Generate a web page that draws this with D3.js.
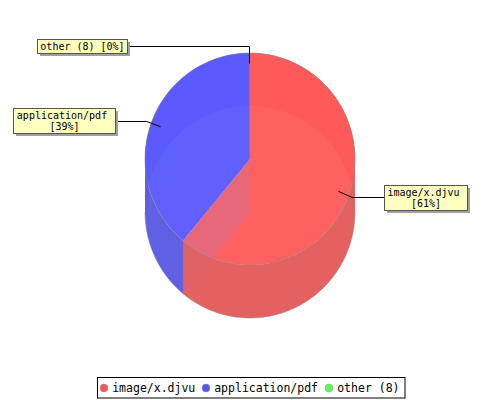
<!DOCTYPE html>
<html>
<head>
<script src='https://d3js.org/d3.v7.min.js'></script>
<style>
    html, body { margin: 0; padding: 0; background: #fff; }
    text { font-family: 'DejaVu Sans Mono', monospace; }
</style>
</head>
<body>
<svg width=500 height=400></svg>
<script>
    var categories = ['image/x.djvu', 'application/pdf', 'other (8)'];
    var shares = [61, 39, 0];
    var labelLines = [['image/x.djvu', '[61%]'], ['application/pdf', '[39%]'], ['other (8) [0%]']];

    var topColors = ['#ff5959', '#5959ff', '#59ff59'];
    var wallColors = ['#e56060', '#6060e5', '#60e560'];
    var legendColors = ['#ff5555', '#5555ff', '#55ff55'];

    var cx = 250, cy = 159, rx = 105, ry = 106, depth = 53;

    var svg = d3.select('svg');
    var slices = d3.pie().sort(null).value(function (d) { return d; })(shares);

    function px(a, r) { return cx + r * rx * Math.sin(a); }
    function py(a, r) { return cy - r * ry * Math.cos(a); }

    // arc along the ellipse, clockwise from the top
    function arcPoints(a0, a1, dy) {
        var steps = Math.max(2, Math.ceil(Math.abs(a1 - a0) * 60));
        return d3.range(steps + 1).map(function (i) {
            var a = a0 + (a1 - a0) * i / steps;
            return [px(a, 1), py(a, 1) + dy];
        });
    }
    var line = d3.line();

    function wall(a0, a1) {
        if (a1 <= a0) return null;
        return line(arcPoints(a0, a1, 0).concat(arcPoints(a1, a0, depth))) + 'Z';
    }
    function face(a0, a1) {
        return line([[cx, cy]].concat(arcPoints(a0, a1, 0))) + 'Z';
    }

    var PI = Math.PI;
    var layer = svg.append('g');

    svg.append('clipPath').attr('id', 'topClip').append('path')
        .attr('d', line(arcPoints(0, 2 * PI, 0)) + 'Z');

    // outer walls: back part then front part of every slice
    slices.forEach(function (s, i) {
        var pieces = [[s.startAngle, Math.min(s.endAngle, PI / 2)],
                      [Math.max(s.startAngle, PI / 2), Math.min(s.endAngle, 3 * PI / 2)],
                      [Math.max(s.startAngle, 3 * PI / 2), s.endAngle]];
        pieces.forEach(function (p) {
            var d = wall(p[0], p[1]);
            if (d) layer.append('path').attr('d', d).attr('fill', wallColors[i]);
        });
    });

    // thin grey edge of the lower rim
    layer.append('path').attr('d', line(arcPoints(PI / 2, 3 * PI / 2, depth)))
        .attr('fill', 'none').attr('stroke', '#888').attr('stroke-width', 0.5);

    // top faces
    slices.forEach(function (s, i) {
        if (s.endAngle <= s.startAngle) return;
        layer.append('path').attr('d', face(s.startAngle, s.endAngle))
            .attr('fill', topColors[i]).attr('fill-opacity', 0.96);
        layer.append('path').attr('d', line(arcPoints(s.startAngle, s.endAngle, 0)))
            .attr('fill', 'none').attr('stroke', '#888').attr('stroke-width', 0.5);
    });

    // cut face between the two big slices, it shows through the red one
    var cut = slices[0].endAngle;
    var cutPath = line([[cx, cy], [px(cut, 1), py(cut, 1)], [px(cut, 1), py(cut, 1) + depth], [cx, cy + depth]]) + 'Z';
    layer.append('path').attr('d', cutPath)
        .attr('fill', 'rgb(140,136,216)').attr('fill-opacity', 0.06);
    layer.append('path').attr('d', cutPath).attr('clip-path', 'url(#topClip)')
        .attr('fill', 'rgb(140,136,216)').attr('fill-opacity', 0.16);

    // edges at the wall corner and the 12 o'clock seam
    layer.append('line').attr('x1', px(cut, 1)).attr('x2', px(cut, 1))
        .attr('y1', py(cut, 1)).attr('y2', py(cut, 1) + depth)
        .attr('stroke', '#8a6a90').attr('stroke-opacity', 0.6);
    layer.append('line').attr('x1', cx - 0.5).attr('x2', cx - 0.5).attr('y1', py(0, 1)).attr('y2', cy)
        .attr('stroke', '#8a7a90').attr('stroke-opacity', 0.8);

    // leader lines
    var boxes = [
        { x: 384.5, y: 185.5, w: 83, h: 25, lx: 384 },
        { x: 13.5, y: 108.5, w: 102, h: 25, lx: 118 },
        { x: 37.5, y: 39.5, w: 90, h: 14, lx: 130 }
    ];

    slices.forEach(function (s, i) {
        var mid = (s.startAngle + s.endAngle) / 2;
        var b = boxes[i];
        var ex = px(mid, 1.04) - 0.5, ey = Math.round(py(mid, 1.065)) + 0.5;
        svg.append('path')
            .attr('d', line([[px(mid, 0.9) - 0.5, py(mid, 0.9)], [ex, ey], [b.lx, ey]]))
            .attr('fill', 'none').attr('stroke', '#000').attr('stroke-width', 1);
    });

    // label boxes
    boxes.forEach(function (b, i) {
        svg.append('rect').attr('x', b.x + 2.5).attr('y', b.y + 2.5).attr('width', b.w).attr('height', b.h)
            .attr('fill', '#a0a0a0');
        svg.append('rect').attr('x', b.x).attr('y', b.y).attr('width', b.w).attr('height', b.h)
            .attr('fill', '#ffffc0').attr('stroke', '#555').attr('stroke-width', 1);
        labelLines[i].forEach(function (t, j) {
            // the long first line of a two line label sits a bit left of centre
            var shift = (labelLines[i].length > 1 && j == 0) ? -2.5 : 0;
            svg.append('text').attr('x', b.x + b.w / 2 + shift).attr('y', b.y + 10.5 + j * 11)
                .attr('text-anchor', 'middle').style('font-size', '10px').attr('fill', '#000').text(t);
        });
    });

    // legend
    svg.append('rect').attr('x', 97.5).attr('y', 377.5).attr('width', 307.5).attr('height', 20.5)
        .attr('fill', '#fff').attr('stroke', '#000');
    var legendX = d3.scaleOrdinal().domain(categories).range([104, 206, 329]);
    categories.forEach(function (c, i) {
        svg.append('circle').attr('cx', legendX(c)).attr('cy', 388).attr('r', 4)
            .attr('fill', legendColors[i]).attr('stroke', '#999').attr('stroke-width', 0.5);
        svg.append('text').attr('x', legendX(c) + 8.2).attr('y', 392)
            .style('font-size', '11.5px').attr('fill', '#000').text(c);
    });
</script>
</body>
</html>
